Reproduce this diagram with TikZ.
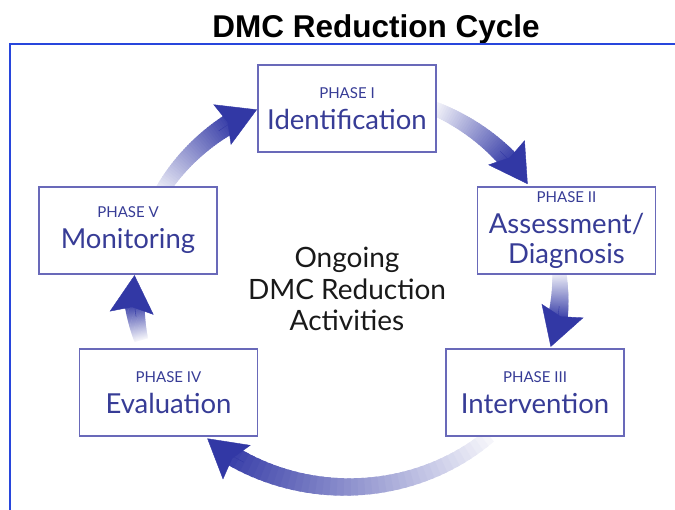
\documentclass[tikz,border=0pt]{standalone}
\usepackage{fontspec}
\usepackage{xcolor}
\setmainfont{Lato}
\newfontfamily\titlefont{Liberation Sans}
\usetikzlibrary{arrows.meta}
\definecolor{framecol}{RGB}{40,70,220}
\definecolor{boxline}{RGB}{105,105,185}
\definecolor{phasetext}{RGB}{55,60,150}
\definecolor{arrowcol}{RGB}{50,56,165}
\newcommand\phaselabel[1]{{\fontsize{15}{18}\selectfont #1}\\[1pt]}

\begin{document}
\begin{tikzpicture}[x=1pt,y=1pt,line cap=butt,main node/.style={draw=boxline,line width=1.3pt,fill=white,minimum width=178pt,minimum height=87pt,inner sep=0pt,align=center,text=phasetext,font=\fontsize{27.5}{30}\selectfont}]
    \useasboundingbox (0,0) rectangle (675,510);
    \node[anchor=base,font=\titlefont\bfseries\fontsize{31.5}{34}\selectfont] (t) at (376,472) {DMC Reduction Cycle};
    \draw[framecol,line width=2pt] (10,0) |- (675,466);

    \node[align=center,text=black!90,font=\fontsize{28}{31.5}\selectfont] (c) at (347,221) {Ongoing\\DMC Reduction\\Activities};

    \foreach \ts/\te in {66/32,5/-17,-48/-131,-165/-184,152/115}{
        \foreach \k in {0,...,39}{
            \pgfmathsetmacro\a{\ts+(\te+8.5-\ts)*\k/40}
            \pgfmathsetmacro\b{\ts+(\te+8.5-\ts)*(\k+1.5)/40}
            \pgfmathsetmacro\s{5+90*\k/39}
            \pgfmathsetmacro\w{14+6*\k/39}
            \draw[arrowcol!\s!white,line width=\w pt] (c.center) ++(\a:213pt and 198pt) arc[start angle=\a,end angle=\b,x radius=213pt,y radius=198pt];
        }
        \pgfmathsetmacro\h{\te+12}
        \draw[arrowcol,line width=.4pt,-{Stealth[length=38pt,width=44pt,inset=6pt]}] (c.center) ++(\h:213pt and 198pt) arc[start angle=\h,end angle=\te,x radius=213pt,y radius=198pt];
    }

    \node[main node] (1) at (347,401.5) {\phaselabel{PHASE I}Identification};
    \node[main node] (2) at (566.5,279.5) {\phaselabel{PHASE II}Assessment/\\Diagnosis};
    \node[main node] (3) at (535,117.5) {\phaselabel{PHASE III}Intervention};
    \node[main node] (4) at (168.5,117.5) {\phaselabel{PHASE IV}Evaluation};
    \node[main node] (5) at (128,279.5) {\phaselabel{PHASE V}Monitoring};
\end{tikzpicture}
\end{document}
